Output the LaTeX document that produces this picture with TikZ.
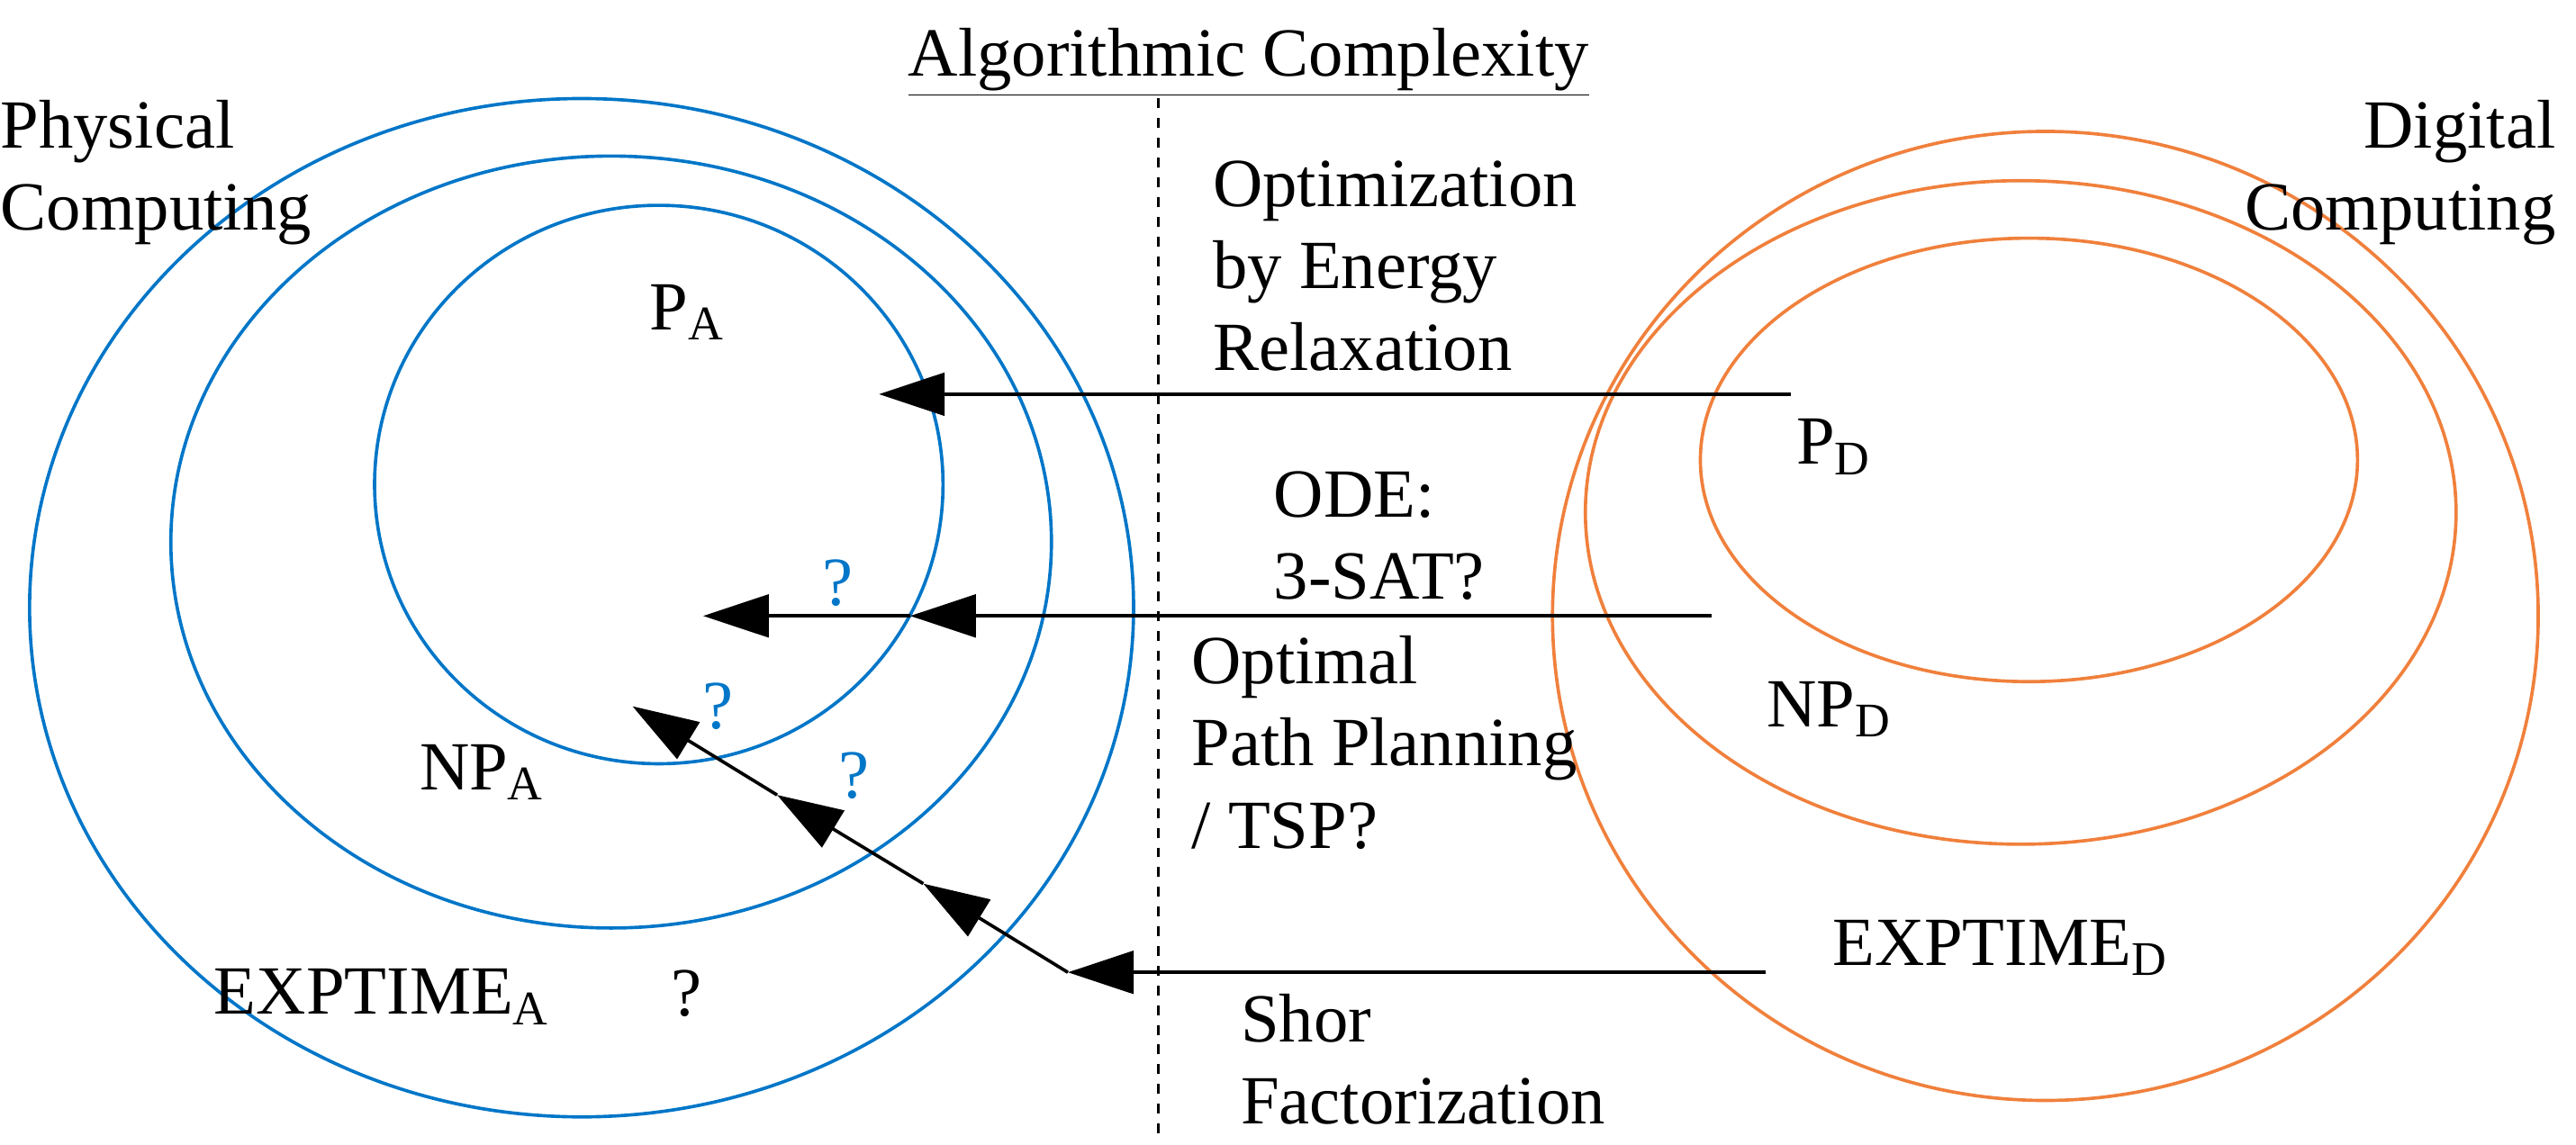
\documentclass[tikz,border=0pt]{standalone}
\usepackage{fontspec}
\setmainfont{Liberation Serif}
\usetikzlibrary{arrows.meta}
\definecolor{physblue}{RGB}{0,118,200}
\definecolor{digorange}{RGB}{240,128,60}
\tikzset{
  lbl/.style={anchor=west, inner sep=0pt, font=\fontsize{21}{25}\selectfont, align=left},
  qmark/.style={inner sep=0pt, text=physblue, font=\fontsize{21}{25}\selectfont},
  bset/.style={draw=physblue, line width=1pt},
  dset/.style={draw=digorange, line width=1pt},
  arr/.style={line width=1pt, -{Triangle[length=20pt,width=13pt]}}
}
\begin{document}
\begin{tikzpicture}[x=0.5pt, y=-0.5pt]
  \useasboundingbox (0,0) rectangle (1568,697);

  % sets on the physical side
  \draw[bset] (354,370) ellipse [x radius=336, y radius=310];
  \draw[bset] (372,330) ellipse [x radius=268, y radius=235];
  \draw[bset] (401,295) ellipse [x radius=173, y radius=170];

  % sets on the digital side
  \draw[dset] (1245,375) ellipse [x radius=300, y radius=295];
  \draw[dset] (1230,312) ellipse [x radius=265, y radius=202];
  \draw[dset] (1235,280) ellipse [x radius=200, y radius=135];

  \draw[dashed, line width=0.8pt] (705,60) -- (705,695);

  \node[lbl] (phys) at (0,105) {Physical\\Computing};
  \node[lbl, anchor=east, align=right] (dig) at (1556,105) {Digital\\Computing};
  \node[lbl, anchor=center] (title) at (760,38) {\underline{Algorithmic Complexity}};

  \node[lbl] (opt) at (738,162) {Optimization\\by Energy\\Relaxation};
  \node[lbl] (ode) at (775,326) {ODE:\\3-SAT?};
  \node[lbl] (tsp) at (725,452) {Optimal\\Path Planning\\/ TSP?};
  \node[lbl] (shor) at (755,645) {Shor\\Factorization};

  \node[lbl] (pa) at (395,190) {P\textsubscript{A}};
  \node[lbl] (pd) at (1093,272) {P\textsubscript{D}};
  \node[lbl] (npa) at (255,470) {NP\textsubscript{A}};
  \node[lbl] (npd) at (1075,432) {NP\textsubscript{D}};
  \node[lbl] (expa) at (130,607) {EXPTIME\textsubscript{A}};
  \node[lbl] (q) at (408,605) {?};
  \node[lbl] (expd) at (1115,577) {EXPTIME\textsubscript{D}};

  \node[qmark] (q1) at (510,355) {?};
  \node[qmark] (q2) at (437,430) {?};
  \node[qmark] (q3) at (520,472) {?};

  % reductions
  \coordinate (s1) at (1090,240);
  \coordinate (t1) at (535,240);
  \coordinate (s2) at (1042,375);
  \coordinate (m2) at (554,375);
  \coordinate (t2) at (428,375);
  \coordinate (s3) at (1075,592);
  \coordinate (c3) at (650,592);
  \coordinate (m3) at (562,538);
  \coordinate (n3) at (473,484);
  \coordinate (t3) at (385,430);

  \draw[arr] (s1) -- (t1);
  \draw[arr] (s2) -- (m2);
  \draw[arr] (m2) -- (t2);
  \draw[arr] (s3) -- (c3);
  \draw[arr] (c3) -- (m3);
  \draw[arr] (m3) -- (n3);
  \draw[arr] (n3) -- (t3);
\end{tikzpicture}
\end{document}
